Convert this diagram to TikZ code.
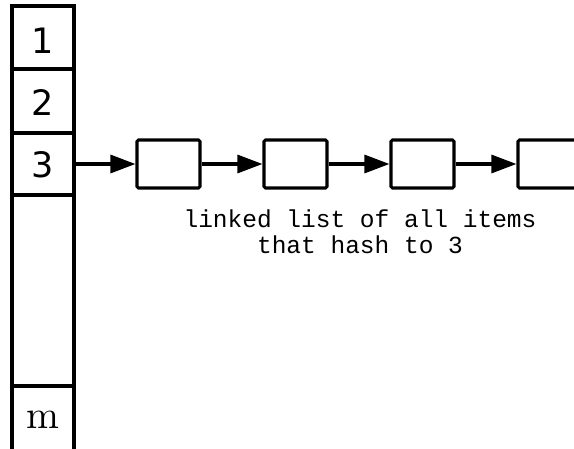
\documentclass[tikz,border=0pt]{standalone}
\usepackage{fontspec}
\usetikzlibrary{arrows.meta}
\newfontfamily\digitfont{DejaVu Sans}
\newfontfamily\monofont{Liberation Mono}
\newfontfamily\letterfont[Extension=.otf]{lmroman10-regular}
\tikzset{
  thickline/.style={line width=3.1pt},
  cell/.style={draw, thickline, rectangle, inner sep=0pt, minimum width=62pt},
  listbox/.style={draw, thickline, rectangle, rounded corners=1.5pt, inner sep=0pt,
                  minimum width=63pt, minimum height=48pt},
  link/.style={thickline, -{Triangle[length=25pt, width=18pt]}},
  num/.style={font=\digitfont\fontsize{35}{35}\selectfont, anchor=base},
  caption/.style={font=\monofont\fontsize{24.5}{26}\selectfont, align=center, anchor=base}
}
\begin{document}
\begin{tikzpicture}[x=1pt, y=-1pt]
  \useasboundingbox (0,0) rectangle (574,448);
  % hash table column
  \node[cell, minimum height=63pt] (c1) at (43,37.5) {};
  \node[cell, minimum height=64pt] (c2) at (43,101) {};
  \node[cell, minimum height=62pt] (c3) at (43,164) {};
  \node[cell, minimum height=191pt] (c4) at (43,290.5) {};
  \node[cell, minimum height=70pt] (c5) at (43,421) {};
  \node[num] (n1) at (43,53) {1};
  \node[num] (n2) at (43,115.5) {2};
  \node[num] (n3) at (43,177.5) {3};
  \node[font=\letterfont\fontsize{39.5}{39.5}\selectfont, anchor=base] (nm) at (43,428) {m};
  % linked list for bucket 3
  \node[listbox] (b1) at (168.5,164) {};
  \node[listbox] (b2) at (295.5,164) {};
  \node[listbox] (b3) at (422.5,164) {};
  \node[listbox] (b4) at (549.5,164) {};
  \draw[link] (c3.east) -- (b1.west);
  \draw[link] (b1.east) -- (b2.west);
  \draw[link] (b2.east) -- (b3.west);
  \draw[link] (b3.east) -- (b4.west);
  \node[caption] (cap) at (360,253) {linked list of all items\\that hash to 3};
\end{tikzpicture}
\end{document}
